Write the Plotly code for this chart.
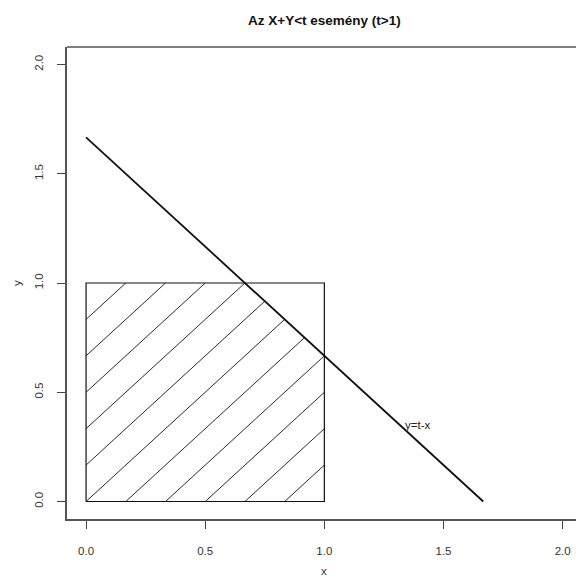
import plotly.graph_objects as go

# ---- data ----
t_value = 5 / 3                      # threshold t (t > 1)
square_x = [0, 1, 1, 0, 0]           # unit square outline
square_y = [0, 0, 1, 1, 0]
hatch_offsets = [-5/6, -4/6, -3/6, -2/6, -1/6, 0, 1/6, 2/6, 3/6, 4/6, 5/6]
x_ticks = [0.0, 0.5, 1.0, 1.5, 2.0]
y_ticks = [0.0, 0.5, 1.0, 1.5, 2.0]
tick_labels = ["0.0", "0.5", "1.0", "1.5", "2.0"]
label_pos = (1.39, 0.35)
label_text = "y=t-x"
title_text = "Az X+Y&lt;t esemény (t&gt;1)"

FONT = "Liberation Sans, Arial, Helvetica, sans-serif"

fig = go.Figure()

# hatching: lines y = x + c inside the square and below x + y = t
hx, hy = [], []
for c in hatch_offsets:
    x0 = max(0.0, -c)
    x1 = min(1.0, 1.0 - c, (t_value - c) / 2)
    if x1 > x0:
        hx += [x0, x1, None]
        hy += [x0 + c, x1 + c, None]
fig.add_trace(go.Scatter(x=hx, y=hy, mode="lines",
                         line=dict(color="#2a2a2a", width=1),
                         hoverinfo="skip", showlegend=False))

# square outline
fig.add_trace(go.Scatter(x=square_x, y=square_y, mode="lines",
                         line=dict(color="#111111", width=1.2),
                         hoverinfo="skip", showlegend=False))

# line y = t - x
fig.add_trace(go.Scatter(x=[0, t_value], y=[t_value, 0], mode="lines",
                         line=dict(color="#111111", width=1.8),
                         hoverinfo="skip", showlegend=False))

axis_common = dict(
    showgrid=False, zeroline=False, showline=True, linecolor="#555555",
    linewidth=1.5, ticks="outside", ticklen=8, tickwidth=1.2,
    tickcolor="#444444", tickfont=dict(family=FONT, size=11.5, color="#333333"),
    tickmode="array", ticktext=tick_labels, automargin=False,
)

# x range chosen so that the plot region runs past the right window edge like the reference
x_left = -0.08
x_right = 2.056

fig.update_layout(
    width=576, height=577,
    margin=dict(l=67, r=0, t=47, b=58),
    paper_bgcolor="white", plot_bgcolor="white",
    showlegend=False,
    xaxis=dict(range=[x_left, x_right], tickvals=x_ticks, ticklabelstandoff=12,
               **axis_common),
    yaxis=dict(range=[-0.08, 2.08], tickvals=y_ticks, tickangle=-90,
               ticklabelstandoff=10, **axis_common),
    annotations=[
        dict(text="<b>" + title_text + "</b>", xref="paper", yref="paper",
             x=0.505, y=1, yshift=27, showarrow=False, xanchor="center",
             yanchor="middle", font=dict(family=FONT, size=13.5, color="#111111")),
        dict(text="x", xref="paper", yref="paper", x=0.505, y=0, yshift=-52,
             showarrow=False, xanchor="center", yanchor="middle",
             font=dict(family=FONT, size=11.5, color="#333333")),
        dict(text="y", xref="paper", yref="paper", x=0, y=0.5, xshift=-50,
             showarrow=False, xanchor="center", yanchor="middle", textangle=-90,
             font=dict(family=FONT, size=11.5, color="#333333")),
        dict(text=label_text, x=label_pos[0], y=label_pos[1], xref="x", yref="y",
             showarrow=False, xanchor="center", yanchor="middle",
             font=dict(family=FONT, size=11.5, color="#222222")),
    ],
    shapes=[
        dict(type="line", xref="paper", yref="paper", x0=0, x1=1, y0=1, y1=1,
             line=dict(color="#555555", width=1.5)),
    ],
)

fig.write_html(
    "out.html",
    config={"displayModeBar": False},
    post_script="document.body.style.margin='0';document.body.style.overflow='hidden';",
)
